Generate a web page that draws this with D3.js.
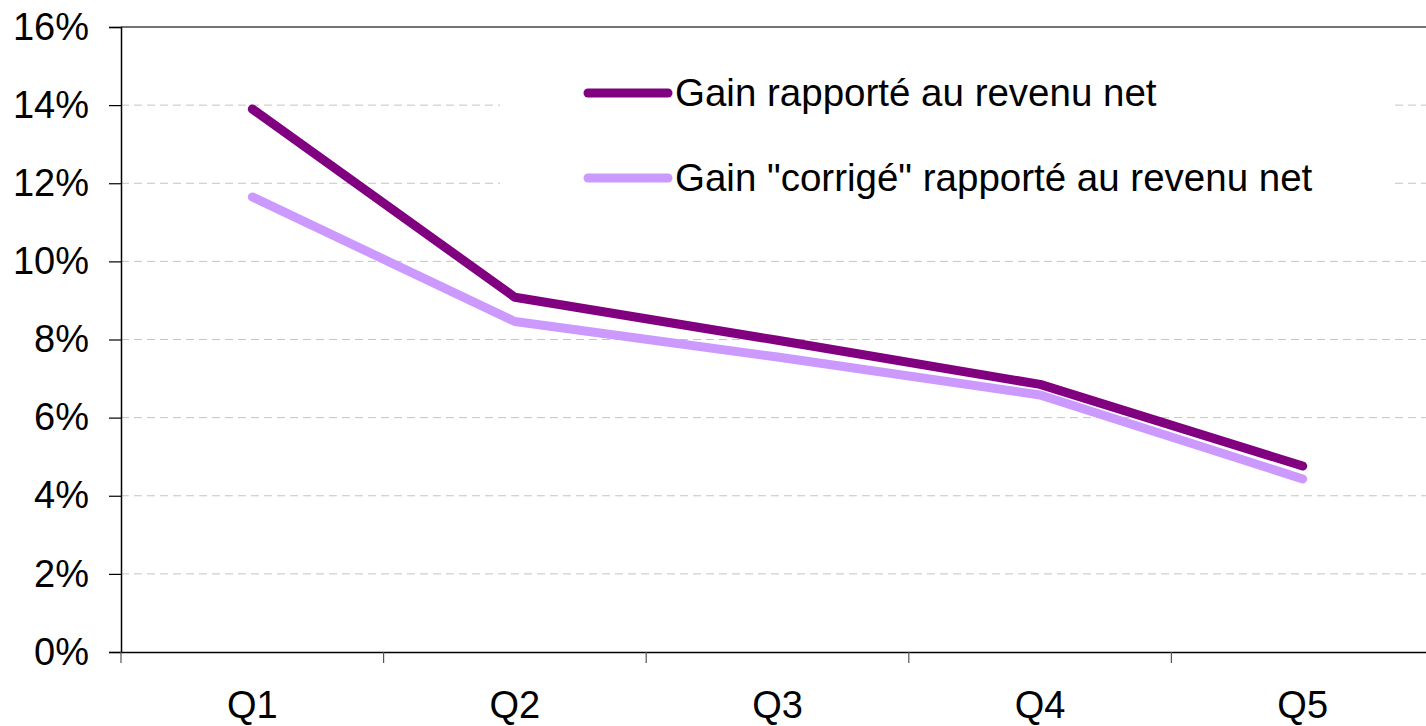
<!DOCTYPE html>
<html lang="fr">
<head>
<meta charset="UTF-8">
<title>Gain rapporté au revenu net</title>
<script src="https://cdnjs.cloudflare.com/ajax/libs/d3/7.8.5/d3.min.js"></script>
<style>
  html, body { margin: 0; padding: 0; background: #fff; }
  svg { display: block; font-family: "Liberation Sans", Arial, sans-serif; }
</style>
</head>
<body>
<svg id="chart" width="1426" height="726"></svg>
<script>
// data
var categories = ["Q1", "Q2", "Q3", "Q4", "Q5"];
var gainNet = [13.9, 9.08, 7.98, 6.85, 4.76];
var gainCorrige = [11.65, 8.46, 7.55, 6.58, 4.43];
var seriesNames = ["Gain rapporté au revenu net", "Gain \"corrigé\" rapporté au revenu net"];
var yTicks = [0, 2, 4, 6, 8, 10, 12, 14, 16];

var svg = d3.select("#chart"),
    margin = { top: 27, left: 121, bottom: 74 },
    plotRight = 1434,
    height = +svg.attr("height") - margin.top - margin.bottom;

var x = d3.scaleBand().domain(categories).range([margin.left, plotRight]);
var y = d3.scaleLinear().domain([0, 16]).range([margin.top + height, margin.top]);

// gridlines
svg.append("g")
    .selectAll("line")
    .data(yTicks.slice(1, -1))
    .enter().append("line")
    .attr("x1", margin.left).attr("x2", plotRight)
    .attr("y1", function (d) { return y(d); })
    .attr("y2", function (d) { return y(d); })
    .attr("stroke", "#c4c4c4")
    .attr("stroke-width", 1)
    .attr("stroke-dasharray", "8,5");

// top border
svg.append("line")
    .attr("x1", margin.left).attr("x2", plotRight)
    .attr("y1", y(16)).attr("y2", y(16))
    .attr("stroke", "#444").attr("stroke-width", 1.5);

// y axis
var yAxis = d3.axisLeft(y).tickValues(yTicks).tickSize(12).tickPadding(20)
    .tickFormat(function (d) { return d + "%"; });
var gy = svg.append("g")
    .attr("transform", "translate(" + margin.left + ",0)")
    .call(yAxis);
gy.select(".domain").attr("stroke", "#000").attr("stroke-width", 1.5);
gy.selectAll(".tick line").attr("stroke", "#000").attr("stroke-width", 1.2);
gy.selectAll("text").attr("font-size", 38).attr("fill", "#000").attr("dy", "0.32em");

// x axis
var xAxis = d3.axisBottom(x).tickSize(0).tickPadding(47);
var gx = svg.append("g")
    .attr("transform", "translate(0," + y(0) + ")")
    .call(xAxis);
gx.select(".domain").attr("stroke", "#000").attr("stroke-width", 1.5);
gx.selectAll("text").attr("font-size", 38).attr("fill", "#000").attr("dy", "0.5em");

// category boundary ticks
svg.append("g")
    .selectAll("line")
    .data(categories)
    .enter().append("line")
    .attr("x1", function (d) { return x(d); })
    .attr("x2", function (d) { return x(d); })
    .attr("y1", y(0)).attr("y2", y(0) + 11)
    .attr("stroke", "#555").attr("stroke-width", 1.2);

// legend background
svg.append("rect")
    .attr("x", 500).attr("y", 60)
    .attr("width", 894).attr("height", 160)
    .attr("fill", "#fff");

// lines
var line = d3.line()
    .x(function (d, i) { return x(categories[i]) + x.bandwidth() / 2; })
    .y(function (d) { return y(d); });

var series = [
    { name: seriesNames[0], values: gainNet, color: "#800080" },
    { name: seriesNames[1], values: gainCorrige, color: "#cc99ff" }
];

svg.selectAll(".serie")
    .data(series.slice().reverse())
    .enter().append("path")
    .attr("class", "serie")
    .attr("fill", "none")
    .attr("stroke", function (d) { return d.color; })
    .attr("stroke-width", 9)
    .attr("stroke-linejoin", "round")
    .attr("stroke-linecap", "round")
    .attr("d", function (d) { return line(d.values); });

// legend
var legend = svg.selectAll(".legend")
    .data(series)
    .enter().append("g")
    .attr("class", "legend")
    .attr("transform", function (d, i) { return "translate(588," + (93 + i * 85) + ")"; });

legend.append("line")
    .attr("x1", 0).attr("x2", 80)
    .attr("y1", 0).attr("y2", 0)
    .attr("stroke", function (d) { return d.color; })
    .attr("stroke-width", 9)
    .attr("stroke-linecap", "round");

legend.append("text")
    .attr("x", 87)
    .attr("y", 13)
    .attr("font-size", 38.5)
    .attr("fill", "#000")
    .text(function (d) { return d.name; });
</script>
</body>
</html>
